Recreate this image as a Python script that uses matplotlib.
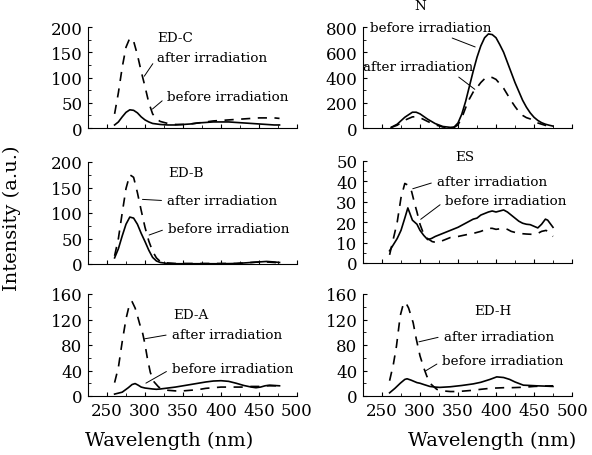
import matplotlib
matplotlib.use("Agg")
import matplotlib.pyplot as plt
from matplotlib.ticker import MultipleLocator

plt.rcParams['font.family'] = ['DejaVu Serif']

# ---- data (wavelength nm, intensity a.u.) ----
edc_after_wl = [260, 265, 270, 275, 280, 285, 290, 295, 300, 305, 310, 315, 320, 330, 340, 350,
                360, 370, 380, 390, 400, 410, 420, 430, 440, 450, 460, 470, 477]
edc_after = [28, 70, 120, 160, 178, 172, 145, 112, 82, 50, 28, 18, 13, 9, 7, 7,
             8, 10, 12, 14, 15, 16, 17, 18, 19, 20, 20, 20, 19]
edc_before_wl = [260, 265, 270, 275, 280, 285, 290, 295, 300, 305, 310, 320, 330, 340, 350,
                 360, 370, 380, 390, 400, 410, 420, 430, 440, 450, 460, 470, 477]
edc_before = [6, 12, 22, 31, 36, 35, 30, 22, 16, 12, 9, 7, 6, 6, 7,
              8, 10, 11, 12, 12, 12, 11, 10, 9, 8, 7, 6, 6]

n_before_wl = [262, 270, 280, 290, 295, 300, 310, 320, 330, 340, 345, 350, 355, 360, 365, 370,
               375, 380, 385, 390, 395, 400, 405, 410, 415, 420, 425, 430, 435, 440, 445,
               450, 455, 460, 465, 470, 475]
n_before = [5, 30, 85, 125, 125, 112, 70, 35, 12, 5, 8, 40, 110, 210, 330, 450,
            560, 650, 715, 745, 740, 715, 660, 600, 520, 440, 360, 290, 220, 165, 120,
            85, 60, 42, 30, 22, 15]
n_after_wl = [262, 270, 280, 290, 295, 300, 310, 320, 330, 340, 345, 350, 355, 360, 365, 370,
              375, 380, 385, 390, 395, 400, 405, 410, 415, 420, 425, 430, 435, 440, 445,
              450, 455, 460, 465, 470, 475]
n_after = [4, 22, 62, 88, 90, 82, 52, 25, 8, 3, 5, 25, 80, 160, 230, 285,
           320, 360, 390, 405, 400, 385, 350, 315, 265, 215, 170, 130, 100, 82, 72,
           55, 40, 30, 21, 14, 10]

edb_after_wl = [260, 265, 270, 275, 280, 285, 290, 295, 300, 305, 310, 315, 320, 330, 340,
                360, 380, 400, 420, 430, 440, 450, 460, 470, 477]
edb_after = [16, 50, 100, 148, 175, 170, 140, 105, 72, 45, 25, 12, 5, 2, 1,
             1, 1, 1, 1, 2, 3, 4, 4, 3, 2]
edb_before_wl = [260, 265, 270, 275, 280, 285, 290, 295, 300, 305, 310, 315, 320, 330, 340,
                 360, 380, 400, 420, 430, 440, 450, 460, 470, 477]
edb_before = [12, 30, 55, 78, 92, 90, 78, 60, 44, 27, 13, 6, 3, 1, 0.5,
              0.5, 0.5, 0.5, 1, 2, 3, 4, 5, 4, 3]

es_before_wl = [260, 265, 270, 275, 280, 284, 287, 290, 293, 296, 300, 305, 310, 315, 320, 330,
                340, 350, 360, 370, 375, 380, 390, 395, 400, 405, 410, 415, 420, 425, 430,
                435, 440, 445, 450, 455, 460, 465, 468, 472, 475]
es_before = [6, 9, 12, 16, 22, 27, 24, 21, 20, 19, 16, 13.5, 11.5, 12, 13, 14.5,
             16, 17.5, 19.5, 21.5, 22, 23.5, 25, 25.5, 25, 25.5, 26, 25, 23.5, 22, 20.5,
             19.5, 19, 18.8, 18, 17.2, 19, 21.5, 21, 19, 17.5]
es_after_wl = [260, 265, 270, 275, 280, 285, 289, 293, 296, 300, 304, 310, 316, 322, 330, 340,
               350, 360, 370, 380, 390, 395, 400, 410, 415, 420, 430, 440, 450, 455, 460,
               466, 470, 475]
es_after = [4, 12, 20, 32, 39, 38, 35, 29, 25, 19, 15, 12, 10.5, 10, 11, 12.5,
            13, 13.8, 14.5, 15.5, 17, 17, 16.5, 17, 16.5, 15.5, 14.5, 14.2, 14, 14.5, 15.5,
            16, 14.5, 13]

eda_after_wl = [260, 265, 270, 275, 280, 283, 287, 290, 293, 297, 300, 303, 307, 312, 318, 324,
                330, 340, 350, 360, 370, 380, 390, 400, 410, 420, 430, 440, 450, 460, 470, 477]
eda_after = [21, 45, 85, 121, 146, 148, 138, 126, 113, 98, 81, 60, 37, 22, 14, 10.5,
             9, 8, 8, 9, 10, 12, 13, 14, 14, 14, 14, 15, 15, 16, 16, 16]
eda_before_wl = [260, 270, 278, 283, 287, 291, 295, 300, 310, 315, 320, 330, 340, 350, 360, 370,
                 380, 390, 400, 410, 420, 430, 440, 446, 452, 458, 464, 470, 477]
eda_before = [3, 6, 13, 18, 19.5, 17, 14, 12.5, 11, 10.5, 11, 12.5, 14, 16, 18, 20,
              22, 23.5, 24, 23, 20, 16.5, 14, 13, 14, 16, 17, 16.5, 16]

edh_after_wl = [260, 265, 269, 274, 278, 281, 285, 291, 295, 300, 305, 309, 315, 322, 330, 340,
                350, 360, 370, 380, 392, 400, 410, 420, 431, 440, 450, 460, 475]
edh_after = [24, 50, 78, 126, 144, 147, 138, 115, 90, 63, 44, 31, 18, 10.5, 8, 7,
             7, 8, 9, 10.5, 12, 12.5, 13, 13, 13.5, 14, 15, 15.5, 16]
edh_before_wl = [260, 267, 274, 280, 283, 288, 296, 300, 305, 313, 320, 326, 340, 355, 370, 380,
                 392, 401, 410, 418, 425, 436, 445, 453, 465, 475]
edh_before = [5, 12, 20, 26, 27, 25, 21, 20, 18, 15, 14, 13.5, 14.5, 16.5, 19, 21.5,
              26, 30, 29, 26, 22, 17, 16.5, 16, 15.5, 15]

fig = plt.figure(figsize=(5.92, 4.56), dpi=100)

W, H = 592, 456


def make_ax(left, top, bottom):
    # pixel box -> figure fraction
    return fig.add_axes([left / W, (H - bottom) / H, 209 / W, (bottom - top) / H])


panels = [
    # axes, curves, ymax, ystep, xticklabels
    (make_ax(88, 28, 129), edc_after_wl, edc_after, edc_before_wl, edc_before, 200, 50, False),
    (make_ax(363, 28, 129), n_after_wl, n_after, n_before_wl, n_before, 800, 200, False),
    (make_ax(88, 163, 265), edb_after_wl, edb_after, edb_before_wl, edb_before, 200, 50, False),
    (make_ax(363, 162, 264), es_after_wl, es_after, es_before_wl, es_before, 50, 10, False),
    (make_ax(88, 295, 397), eda_after_wl, eda_after, eda_before_wl, eda_before, 160, 40, True),
    (make_ax(363, 295, 397), edh_after_wl, edh_after, edh_before_wl, edh_before, 160, 40, True),
]

axes = []
for ax, awl, a, bwl, b, ymax, ystep, showx in panels:
    ax.plot(awl, a, color='black', lw=1.2, linestyle=(0, (5.5, 4.5)))
    ax.plot(bwl, b, color='black', lw=1.2)
    ax.set_xlim(225, 500)
    ax.set_ylim(0, ymax)
    ax.xaxis.set_major_locator(MultipleLocator(50))
    ax.xaxis.set_minor_locator(MultipleLocator(25))
    ax.yaxis.set_major_locator(MultipleLocator(ystep))
    ax.yaxis.set_minor_locator(MultipleLocator(ystep / 2))
    ax.spines['top'].set_visible(False)
    ax.spines['right'].set_visible(False)
    ax.tick_params(which='both', direction='in', labelsize=12, pad=4)
    ax.tick_params(which='major', length=3)
    ax.tick_params(which='minor', length=2)
    if not showx:
        ax.set_xticklabels([])
    axes.append(ax)

FS = 9.7
ann = dict(fontsize=FS, ha='left', va='center')
arrow = dict(arrowstyle='-', lw=0.7, color='black', relpos=(0, 0.5))

# ED-C
ax = axes[0]
ax.text(316, 180, 'ED-C', **ann)
ax.annotate('after irradiation', xy=(297, 98), xytext=(316, 140), arrowprops=arrow, **ann)
ax.annotate('before irradiation', xy=(307, 34), xytext=(329, 62), arrowprops=arrow, **ann)

# N
ax = axes[1]
ax.text(300, 968, 'N', fontsize=FS, ha='center', va='center')
ax.annotate('before irradiation', xy=(376, 634), xytext=(234, 794),
            arrowprops=dict(arrowstyle='-', lw=0.7, color='black', relpos=(0.57, 0.1)), **ann)
ax.annotate('after irradiation', xy=(375, 293), xytext=(225, 490),
            arrowprops=dict(arrowstyle='-', lw=0.7, color='black', relpos=(0.8, 0.1)), **ann)

# ED-B
ax = axes[2]
ax.text(330, 180, 'ED-B', **ann)
ax.annotate('after irradiation', xy=(293, 127), xytext=(329, 124), arrowprops=arrow, **ann)
ax.annotate('before irradiation', xy=(302, 55), xytext=(330, 70), arrowprops=arrow, **ann)

# ES
ax = axes[3]
ax.text(359, 52.3, 'ES', fontsize=FS, ha='center', va='center')
ax.annotate('after irradiation', xy=(287, 36), xytext=(322, 40), arrowprops=arrow, **ann)
ax.annotate('before irradiation', xy=(298, 20.6), xytext=(333, 30.4), arrowprops=arrow, **ann)

# ED-A
ax = axes[4]
ax.text(337, 128, 'ED-A', **ann)
ax.annotate('after irradiation', xy=(296, 89), xytext=(335, 97), arrowprops=arrow, **ann)
ax.annotate('before irradiation', xy=(298, 18), xytext=(335, 43), arrowprops=arrow, **ann)

# ED-H
ax = axes[5]
ax.text(396, 134, 'ED-H', fontsize=FS, ha='center', va='center')
ax.annotate('after irradiation', xy=(295, 84), xytext=(331, 94), arrowprops=arrow, **ann)
ax.annotate('before irradiation', xy=(304, 37), xytext=(329, 55), arrowprops=arrow, **ann)

fig.text(12 / W, (H - 218) / H, 'Intensity (a.u.)', rotation=90, fontsize=14,
         ha='center', va='center')
fig.text(169 / W, (H - 441) / H, 'Wavelength (nm)', fontsize=14, ha='center', va='center')
fig.text(492 / W, (H - 441) / H, 'Wavelength (nm)', fontsize=14, ha='center', va='center')

fig.savefig('out.png', dpi=100)
